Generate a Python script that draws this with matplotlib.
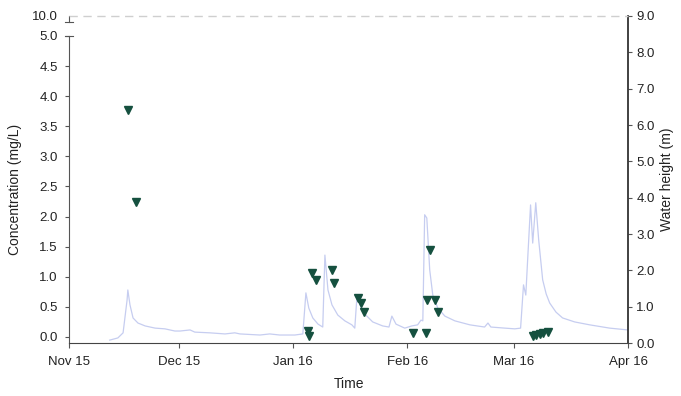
import matplotlib
matplotlib.use('Agg')
import matplotlib.pyplot as plt
import numpy as np
import pandas as pd
import matplotlib.ticker as mticker

plt.rcParams['font.family'] = ['Liberation Sans', 'DejaVu Sans']

# ---- data ----
hydro_time = [
    '2015-11-12 02:00', '2015-11-14 07:00', '2015-11-15 17:00', '2015-11-16 19:00', '2015-11-17 00:00',
    '2015-11-17 14:00', '2015-11-18 10:00', '2015-11-19 18:00', '2015-11-21 17:00', '2015-11-24 10:00',
    '2015-11-27 02:00', '2015-11-29 19:00', '2015-12-01 05:00', '2015-12-03 22:00', '2015-12-05 05:00',
    '2015-12-09 07:00', '2015-12-13 10:00', '2015-12-16 02:00', '2015-12-17 12:00', '2015-12-22 22:00',
    '2015-12-25 14:00', '2015-12-28 07:00', '2016-01-01 10:00', '2016-01-03 14:00', '2016-01-04 10:00',
    '2016-01-05 05:00', '2016-01-06 07:00', '2016-01-07 17:00', '2016-01-09 00:00', '2016-01-09 14:00',
    '2016-01-10 10:00', '2016-01-11 12:00', '2016-01-13 02:00', '2016-01-15 00:00', '2016-01-16 22:00',
    '2016-01-17 17:00', '2016-01-18 07:00', '2016-01-19 02:00', '2016-01-20 17:00', '2016-01-22 14:00',
    '2016-01-25 07:00', '2016-01-27 00:00', '2016-01-27 19:00', '2016-01-28 22:00', '2016-01-31 07:00',
    '2016-02-02 05:00', '2016-02-03 19:00', '2016-02-04 17:00', '2016-02-05 05:00', '2016-02-05 17:00',
    '2016-02-06 07:00', '2016-02-07 02:00', '2016-02-07 22:00', '2016-02-09 07:00', '2016-02-11 05:00',
    '2016-02-13 22:00', '2016-02-18 00:00', '2016-02-22 00:00', '2016-02-22 22:00', '2016-02-23 17:00',
    '2016-02-27 12:00', '2016-03-01 05:00', '2016-03-02 19:00', '2016-03-03 14:00', '2016-03-04 05:00',
    '2016-03-04 17:00', '2016-03-05 12:00', '2016-03-06 02:00', '2016-03-06 22:00', '2016-03-07 17:00',
    '2016-03-08 19:00', '2016-03-09 18:00', '2016-03-10 17:00', '2016-03-12 10:00', '2016-03-14 05:00',
    '2016-03-17 12:00', '2016-03-21 14:00', '2016-03-27 00:00', '2016-03-31 22:00',
]
hydro_height = [
    0.08, 0.14, 0.28, 1.18, 1.46,
    1.05, 0.69, 0.55, 0.47, 0.41,
    0.39, 0.33, 0.33, 0.36, 0.30,
    0.28, 0.25, 0.28, 0.25, 0.22,
    0.25, 0.22, 0.22, 0.25, 1.38,
    0.96, 0.69, 0.52, 0.44, 2.42,
    1.46, 1.05, 0.77, 0.61, 0.50,
    0.41, 1.27, 1.05, 0.77, 0.58,
    0.47, 0.44, 0.74, 0.52, 0.41,
    0.47, 0.50, 0.63, 0.61, 3.53,
    3.44, 2.01, 1.32, 0.96, 0.74,
    0.61, 0.50, 0.44, 0.55, 0.44,
    0.41, 0.39, 0.41, 1.60, 1.32,
    2.29, 3.80, 2.75, 3.86, 2.84,
    1.74, 1.35, 1.10, 0.85, 0.69,
    0.58, 0.50, 0.41, 0.36,
]

conc_time = [
    '2015-11-17 00:00', '2015-11-19 05:00',
    '2016-01-05 00:00', '2016-01-05 07:00', '2016-01-06 05:00', '2016-01-07 02:00',
    '2016-01-11 10:00', '2016-01-12 02:00',
    '2016-01-18 14:00', '2016-01-19 07:00', '2016-01-20 05:00',
    '2016-02-02 14:00', '2016-02-06 00:00', '2016-02-06 10:00', '2016-02-07 07:00',
    '2016-02-08 14:00', '2016-02-09 07:00',
    '2016-03-06 05:00', '2016-03-07 02:00', '2016-03-08 00:00', '2016-03-08 22:00', '2016-03-10 05:00',
]
conc_value = [
    3.77, 2.24,
    0.10, 0.02, 1.07, 0.94,
    1.11, 0.89,
    0.64, 0.56, 0.42,
    0.07, 0.07, 0.62, 1.45,
    0.61, 0.42,
    0.02, 0.03, 0.05, 0.06, 0.08,
]

left_ticks = [0.0, 0.5, 1.0, 1.5, 2.0, 2.5, 3.0, 3.5, 4.0, 4.5, 5.0, 10.0]
right_ticks = [0, 1, 2, 3, 4, 5, 6, 7, 8, 9]
x_tick_dates = ['2015-11-01', '2015-12-01', '2016-01-01', '2016-02-01', '2016-03-01', '2016-04-01']
x_tick_labels = ['Nov 15', 'Dec 15', 'Jan 16', 'Feb 16', 'Mar 16', 'Apr 16']

# ---- figure ----
fig = plt.figure(figsize=(6.81, 3.96), dpi=100)
ax = fig.add_axes([0.1013, 0.1338, 0.8209, 0.8258])
ax2 = ax.twinx()

K = 0.0664  # compression of the broken segment above 5.0


def fwd(y):
    y = np.asarray(y, dtype=float)
    return np.where(y <= 5, y, 5 + (y - 5) * K)


def inv(t):
    t = np.asarray(t, dtype=float)
    return np.where(t <= 5, t, 5 + (t - 5) / K)


ax.set_yscale('function', functions=(fwd, inv))
ax.set_ylim(-0.1, 10)

ht = pd.to_datetime(hydro_time)
ct = pd.to_datetime(conc_time)

ax2.plot(ht, hydro_height, color='#c6cdf0', lw=0.9)
ax2.set_ylim(0, 9)
ax.plot(ct, conc_value, linestyle='none', marker='v', ms=6.0, color='#15503f')

ax.set_zorder(ax2.get_zorder() + 1)
ax.patch.set_visible(False)

ax.set_xlim(pd.Timestamp('2015-11-01'), pd.Timestamp('2016-04-01'))
ax.set_xticks(pd.to_datetime(x_tick_dates))
ax.set_xticklabels(x_tick_labels)

ax.set_yticks(left_ticks)
ax.yaxis.set_major_formatter(mticker.FormatStrFormatter('%.1f'))
ax.yaxis.set_minor_locator(mticker.NullLocator())
ax2.set_yticks(right_ticks)
ax2.yaxis.set_major_formatter(mticker.FormatStrFormatter('%.1f'))

fs = 9.5
ax.tick_params(axis='y', labelsize=fs, length=3, width=0.8, color='#555555', pad=5, labelcolor='#222222')
ax.tick_params(axis='x', labelsize=fs, length=3.5, width=0.8, color='#555555', pad=6, labelcolor='#222222')
ax2.tick_params(axis='y', labelsize=fs, length=3, width=0.8, color='#555555', pad=3, labelcolor='#222222')

# spines
for a in (ax, ax2):
    a.spines['top'].set_visible(False)
ax.spines['right'].set_visible(False)
ax2.spines['left'].set_visible(False)
ax2.spines['bottom'].set_visible(False)
ax.spines['left'].set_color('#555555')
ax.spines['bottom'].set_color('#444444')
ax2.spines['right'].set_color('#333333')
ax2.spines['right'].set_linewidth(1.3)
ax.spines['left'].set_bounds(-0.1, 5.0)

# broken axis marks
ax.yaxis.get_major_ticks()[-1].tick1line.set_visible(False)
ytr = ax.get_yaxis_transform()
ax.plot([0, 0], [10, 8.5], color='#555555', lw=0.8, transform=ytr, clip_on=False)
for yv in (8.5, 5.0):
    ax.plot([-0.0075, 0.0075], [yv, yv], color='#555555', lw=0.8, transform=ytr, clip_on=False)

ax.axhline(10, color='#cfcfcf', lw=1.0, ls=(0, (6, 4)), clip_on=False)

ax.set_xlabel('Time', fontsize=fs + 0.5, color='#222222', labelpad=6)
ax.set_ylabel('Concentration (mg/L)', fontsize=fs + 0.5, color='#222222')
ax2.set_ylabel('Water height (m)', fontsize=fs + 0.5, color='#222222')
ax.yaxis.set_label_coords(-0.084, 0.47)

fig.savefig('out.png', dpi=100)
